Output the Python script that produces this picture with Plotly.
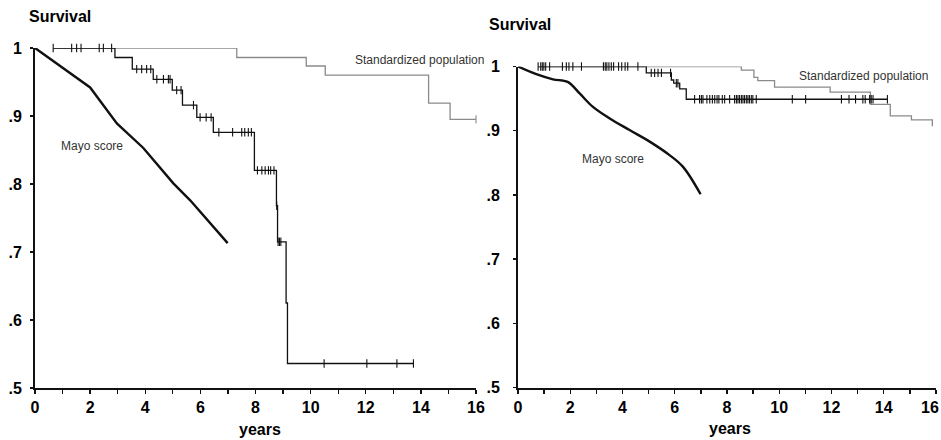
import numpy as np
import plotly.graph_objects as go

W, H = 941, 440
FONT = "Arial, Liberation Sans, Helvetica, sans-serif"

# ---------------- data: left panel ----------------
left_mayo_years = [0, 1.03, 2.0, 2.97, 3.93, 5.02, 5.63, 6.99]
left_mayo_surv = [1.0, 0.970, 0.942, 0.889, 0.853, 0.801, 0.776, 0.713]

left_km_years = [0.66, 2.90, 3.53, 4.29, 4.98, 5.35, 5.87, 6.47, 7.96, 8.76, 8.80, 9.11, 9.16, 13.73]
left_km_surv = [1.0, 0.986, 0.969, 0.954, 0.938, 0.916, 0.898, 0.876, 0.820, 0.768, 0.715, 0.625, 0.536, 0.536]
left_km_censored = [0.66, 1.33, 1.51, 1.67, 2.33, 2.48, 2.78, 3.69, 3.87, 4.05, 4.20, 4.42, 4.66,
                    4.84, 4.90, 5.14, 5.30, 5.75, 5.99, 6.21, 6.39, 6.67, 7.17, 7.50, 7.61, 7.74,
                    7.85, 8.07, 8.23, 8.35, 8.47, 8.55, 8.67, 8.77, 8.82, 8.87, 8.92, 10.49,
                    12.04, 13.13, 13.73]

left_std_years = [0.66, 7.32, 9.84, 10.53, 14.28, 15.06, 16.0]
left_std_surv = [1.0, 0.986, 0.9735, 0.960, 0.919, 0.895, 0.895]
left_std_censored = [16.0]

# ---------------- data: right panel ----------------
right_mayo_years = [0, 0.70, 1.34, 1.90, 2.36, 2.87, 3.51, 4.27, 5.04, 5.80, 6.31, 6.99]
right_mayo_surv = [1.0, 0.988, 0.980, 0.976, 0.958, 0.937, 0.919, 0.901, 0.883, 0.862, 0.844, 0.801]

right_km_years = [0.77, 4.91, 5.87, 5.96, 6.19, 6.44, 14.14]
right_km_surv = [1.0, 0.990, 0.979, 0.974, 0.965, 0.949, 0.949]
right_km_censored = [0.77, 0.87, 0.93, 0.99, 1.06, 1.21, 1.70, 1.85, 1.95, 2.10, 2.43, 3.27,
                     3.34, 3.40, 3.48, 3.57, 3.66, 3.85, 3.97, 4.10, 4.20, 4.59, 5.10, 5.23,
                     5.36, 5.49, 5.84, 6.06, 6.12, 6.76, 6.95, 7.02, 7.08, 7.23, 7.34, 7.44,
                     7.53, 7.62, 7.69, 7.82, 7.91, 8.10, 8.29, 8.36, 8.42, 8.48, 8.55, 8.61,
                     8.67, 8.74, 8.80, 8.86, 8.93, 8.99, 9.12, 10.50, 11.01, 12.38, 12.67,
                     12.92, 13.20, 13.29, 13.46, 13.52, 13.59, 14.14]

right_std_years = [0.77, 8.55, 9.03, 9.18, 9.82, 11.95, 13.49, 14.25, 15.06, 15.86]
right_std_surv = [1.0, 0.9945, 0.983, 0.978, 0.968, 0.960, 0.941, 0.923, 0.917, 0.907]

# ---------------- axis tick labels ----------------
y_tick_vals = [0.5, 0.6, 0.7, 0.8, 0.9, 1.0]
y_tick_text = [".5", ".6", ".7", ".8", ".9", "1"]
x_tick_vals = [0, 2, 4, 6, 8, 10, 12, 14, 16]
x_tick_text = ["0", "2", "4", "6", "8", "10", "12", "14", "16"]
x_range = [0, 16]
y_range = [0.5, 1.0]


def step_at(times, surv, t):
    times = np.asarray(times)
    idx = np.searchsorted(times, t, side="right") - 1
    idx = np.clip(idx, 0, len(surv) - 1)
    return [surv[i] for i in idx]


fig = go.Figure()

KM_COLOR = "#111111"
STD_COLOR = "#8a8a8a"


def add_panel(xa, ya, std_t, std_s, km_t, km_s, km_c, mayo_t, mayo_s, mayo_shape, std_c=None):
    fig.add_trace(go.Scatter(x=std_t, y=std_s, mode="lines", line=dict(color=STD_COLOR, width=1.3, shape="hv"),
                             xaxis=xa, yaxis=ya, cliponaxis=False, showlegend=False, hoverinfo="skip"))
    if std_c:
        fig.add_trace(go.Scatter(x=std_c, y=step_at(std_t, std_s, std_c), mode="markers",
                                 marker=dict(symbol="line-ns", size=6, line=dict(color=STD_COLOR, width=1.1)),
                                 xaxis=xa, yaxis=ya, cliponaxis=False, showlegend=False, hoverinfo="skip"))
    fig.add_trace(go.Scatter(x=km_t, y=km_s, mode="lines", line=dict(color=KM_COLOR, width=1.3, shape="hv"),
                             xaxis=xa, yaxis=ya, cliponaxis=False, showlegend=False, hoverinfo="skip"))
    fig.add_trace(go.Scatter(x=km_c, y=step_at(km_t, km_s, km_c), mode="markers",
                             marker=dict(symbol="line-ns", size=6, line=dict(color=KM_COLOR, width=1.1)),
                             xaxis=xa, yaxis=ya, cliponaxis=False, showlegend=False, hoverinfo="skip"))
    line = dict(color="#111111", width=2.4, shape=mayo_shape)
    if mayo_shape == "spline":
        line["smoothing"] = 1.0
    fig.add_trace(go.Scatter(x=mayo_t, y=mayo_s, mode="lines", line=line,
                             xaxis=xa, yaxis=ya, cliponaxis=False, showlegend=False, hoverinfo="skip"))


add_panel("x", "y", left_std_years, left_std_surv, left_km_years, left_km_surv, left_km_censored,
          left_mayo_years, left_mayo_surv, "linear", left_std_censored)
add_panel("x2", "y2", right_std_years, right_std_surv, right_km_years, right_km_surv, right_km_censored,
          right_mayo_years, right_mayo_surv, "spline")

tickfont = dict(family=FONT, size=16, color="black", weight="bold")


def xaxis_cfg(domain, ticktext):
    return dict(domain=domain, range=x_range, showline=True, linecolor="#111111", linewidth=2,
                ticks="outside", ticklen=4, tickwidth=1.3, tickcolor="#111111",
                tickvals=x_tick_vals, ticktext=ticktext,
                tickfont=tickfont, showgrid=False, zeroline=False, fixedrange=True, automargin=False,
                ticklabelstandoff=0, ticklabeloverflow="allow",
                minor=dict(dtick=1, tick0=0, ticks="outside", ticklen=4, tickwidth=1.3, tickcolor="#111111",
                           showgrid=False))


def yaxis_cfg(domain, anchor, standoff):
    return dict(domain=domain, range=y_range, anchor=anchor, showline=True, linecolor="#111111", linewidth=2,
                ticks="outside", ticklen=3, tickwidth=1.3, tickcolor="#111111",
                tickvals=y_tick_vals, ticktext=y_tick_text, tickfont=tickfont,
                ticklabelstandoff=standoff, automargin=False, ticklabeloverflow="allow",
                showgrid=False, zeroline=False, fixedrange=True)


# right panel: last label is placed as an annotation so it stays inside the page edge
right_tick_text = x_tick_text[:-1] + [""]

fig.update_layout(
    width=W, height=H, margin=dict(l=0, r=0, t=0, b=0, autoexpand=False),
    paper_bgcolor="white", plot_bgcolor="white",
    xaxis=dict(**xaxis_cfg([35 / W, 476 / W], x_tick_text), anchor="y"),
    yaxis=yaxis_cfg([(H - 388) / H, (H - 48) / H], "x", 5),
    xaxis2=dict(**xaxis_cfg([518 / W, 936 / W], right_tick_text), anchor="y2"),
    yaxis2=yaxis_cfg([(H - 387.5) / H, (H - 66.5) / H], "x2", 10),
)

bold16 = dict(family=FONT, size=16, color="black", weight="bold")
label12 = dict(family=FONT, size=12, color="#333333")

annotations = [
    dict(text="Survival", xref="paper", yref="paper", x=27 / W, y=1 - 16 / H, xanchor="left", yanchor="middle",
         showarrow=False, font=bold16),
    dict(text="Survival", xref="paper", yref="paper", x=487 / W, y=1 - 25 / H, xanchor="left", yanchor="middle",
         showarrow=False, font=bold16),
    dict(text="years", xref="paper", yref="paper", x=260 / W, y=1 - 429 / H, xanchor="center", yanchor="middle",
         showarrow=False, font=bold16),
    dict(text="years", xref="paper", yref="paper", x=730 / W, y=1 - 428 / H, xanchor="center", yanchor="middle",
         showarrow=False, font=bold16),
    dict(text=x_tick_text[-1], xref="paper", yref="paper", x=940 / W, y=1 - 407 / H, xanchor="right",
         yanchor="middle", showarrow=False, font=bold16, borderpad=0),
    dict(text="Mayo score", xref="x", yref="y", x=2.07, y=0.856, xanchor="center", yanchor="middle",
         showarrow=False, font=label12),
    dict(text="Standardized population", xref="x", yref="y", x=11.53, y=0.983, xanchor="left", yanchor="middle",
         showarrow=False, font=label12),
    dict(text="Mayo score", xref="x2", yref="y2", x=3.62, y=0.856, xanchor="center", yanchor="middle",
         showarrow=False, font=label12),
    dict(text="Standardized population", xref="x2", yref="y2", x=10.69, y=0.985, xanchor="left", yanchor="middle",
         showarrow=False, font=label12),
]
fig.update_layout(annotations=annotations)

fig.write_html(
    "out.html",
    config={"displayModeBar": False, "staticPlot": True},
    post_script="document.body.style.margin='0';document.body.style.padding='0';document.body.style.overflow='hidden';",
)
